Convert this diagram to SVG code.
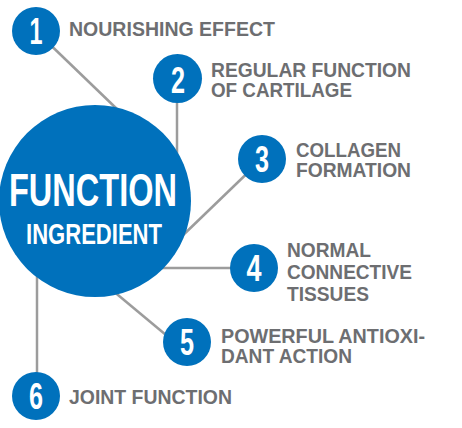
<svg xmlns="http://www.w3.org/2000/svg" width="462" height="428" viewBox="0 0 462 428">
<style>
.ln{stroke:#9c9c9c;stroke-width:2.5;fill:none}
.dot{fill:#0071bc}
.num{font-family:"Liberation Sans",Arial,sans-serif;font-weight:bold;font-size:37px;fill:#fff;text-anchor:middle}
.lbl{font-family:"Liberation Sans",Arial,sans-serif;font-weight:bold;font-size:20px;fill:#6d6e71}
.title{font-family:"Liberation Sans",Arial,sans-serif;font-weight:bold;fill:#fff;text-anchor:middle}
</style>
<rect width="462" height="428" fill="#fff"/>
<g id="connectors">
<line class="ln" x1="36" y1="31" x2="118" y2="110"/>
<line class="ln" x1="177" y1="79" x2="177" y2="160"/>
<line class="ln" x1="262" y1="159" x2="178" y2="240"/>
<line class="ln" x1="150" y1="268" x2="253" y2="268"/>
<line class="ln" x1="112" y1="290" x2="172" y2="340"/>
<line class="ln" x1="37" y1="260" x2="37" y2="394"/>
</g>
<g id="center">
<circle class="dot" cx="95" cy="201" r="96"/>
<text class="title" x="93" y="206" font-size="47" textLength="168" lengthAdjust="spacingAndGlyphs">FUNCTION</text>
<text class="title" x="94" y="244" font-size="29" textLength="136" lengthAdjust="spacingAndGlyphs">INGREDIENT</text>
</g>
<g id="n1">
<circle class="dot" cx="36" cy="31" r="24"/>
<text class="num" x="36" y="44" textLength="13" lengthAdjust="spacingAndGlyphs">1</text>
<text class="lbl" x="69" y="36" textLength="206" lengthAdjust="spacingAndGlyphs">NOURISHING EFFECT</text>
</g>
<g id="n2">
<circle class="dot" cx="177.5" cy="78.5" r="24.5"/>
<text class="num" x="178" y="93" textLength="14" lengthAdjust="spacingAndGlyphs">2</text>
<text class="lbl" x="211" y="77" textLength="200" lengthAdjust="spacingAndGlyphs">REGULAR FUNCTION</text>
<text class="lbl" x="211" y="97" textLength="141" lengthAdjust="spacingAndGlyphs">OF CARTILAGE</text>
</g>
<g id="n3">
<circle class="dot" cx="262" cy="159" r="24"/>
<text class="num" x="262" y="172" textLength="14" lengthAdjust="spacingAndGlyphs">3</text>
<text class="lbl" x="296" y="157" textLength="105" lengthAdjust="spacingAndGlyphs">COLLAGEN</text>
<text class="lbl" x="296" y="177" textLength="115" lengthAdjust="spacingAndGlyphs">FORMATION</text>
</g>
<g id="n4">
<circle class="dot" cx="254" cy="268" r="24"/>
<text class="num" x="254" y="281" textLength="15" lengthAdjust="spacingAndGlyphs">4</text>
<text class="lbl" x="287" y="257" textLength="84" lengthAdjust="spacingAndGlyphs">NORMAL</text>
<text class="lbl" x="287" y="279" textLength="125" lengthAdjust="spacingAndGlyphs">CONNECTIVE</text>
<text class="lbl" x="287" y="301" textLength="82" lengthAdjust="spacingAndGlyphs">TISSUES</text>
</g>
<g id="n5">
<circle class="dot" cx="187" cy="342" r="24"/>
<text class="num" x="187" y="355" textLength="14" lengthAdjust="spacingAndGlyphs">5</text>
<text class="lbl" x="221" y="343" textLength="204" lengthAdjust="spacingAndGlyphs">POWERFUL ANTIOXI-</text>
<text class="lbl" x="221" y="363" textLength="131" lengthAdjust="spacingAndGlyphs">DANT ACTION</text>
</g>
<g id="n6">
<circle class="dot" cx="36" cy="396" r="24"/>
<text class="num" x="36" y="409" textLength="14" lengthAdjust="spacingAndGlyphs">6</text>
<text class="lbl" x="69" y="404" textLength="163" lengthAdjust="spacingAndGlyphs">JOINT FUNCTION</text>
</g>
</svg>
